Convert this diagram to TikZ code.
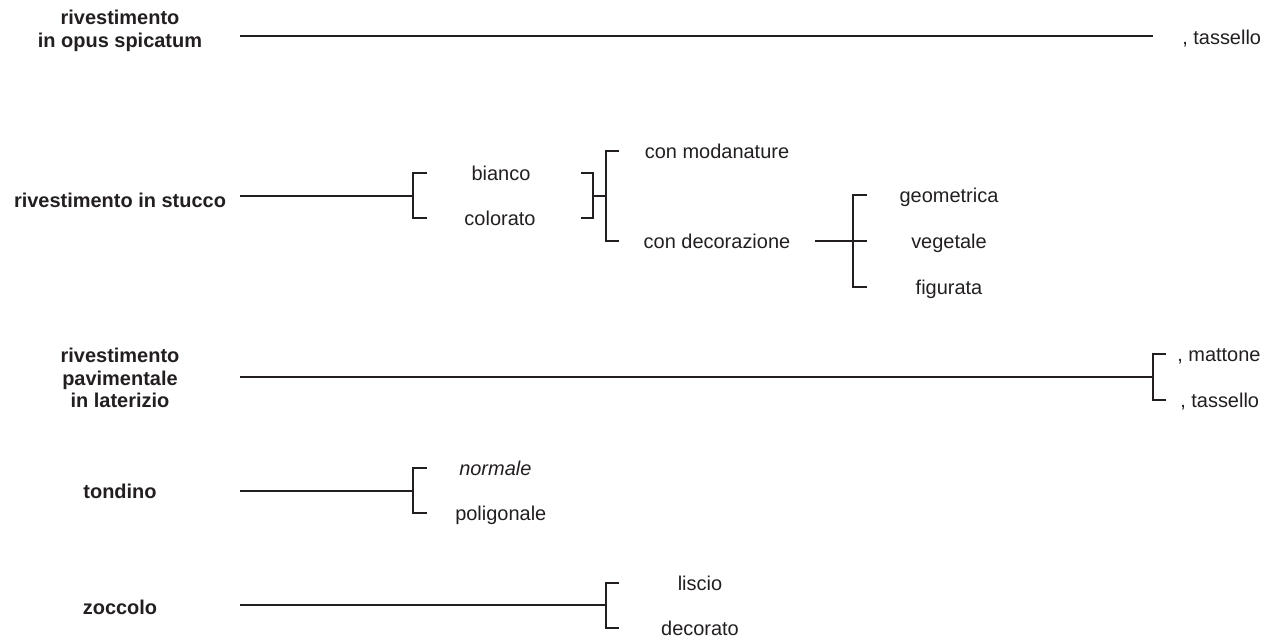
\documentclass[tikz,border=0pt]{standalone}
\usepackage{fontspec}
\setmainfont{Liberation Sans}
\usepackage{tikz}
\usetikzlibrary{positioning}
\definecolor{ink}{RGB}{35,31,32}

\begin{document}
\begin{tikzpicture}[x=0.025cm,y=-0.025cm,
  head/.style={font=\fontsize{14.2}{16}\selectfont\bfseries,align=center,
    inner sep=0pt,text=ink},
  term/.style={font=\fontsize{14.2}{16}\selectfont,inner sep=0pt,text=ink,
    text height=10pt,text depth=0pt},
  link/.style={line width=1.3pt,draw=ink}]
\useasboundingbox (0,0) rectangle (1272,642);
% rivestimento in opus spicatum
\node[head] (opus) at (120,31) {rivestimento\\in opus spicatum};
\coordinate (opusL) at (240,36);
\coordinate (opusR) at (1153,36);
\node[term,anchor=west] (opusT) at (1182,37) {, tassello};
\draw[link] (opusL) -- (opusR);
% rivestimento in stucco
\node[head] (stucco) at (120,200) {rivestimento in stucco};
\coordinate (stuccoL) at (240,196);
\coordinate (stuccoJ) at (413,196);
\node[term] (bianco) at (501,173) {bianco};
\node[term] (colorato) at (500,218) {colorato};
\coordinate (biancoL) at (427,173);
\coordinate (coloratoL) at (427,218);
\coordinate (biancoR) at (581,173);
\coordinate (coloratoR) at (581,218);
\coordinate (tintaJ) at (593,196);
\coordinate (finJ) at (606,196);
\node[term] (modan) at (717,151) {con modanature};
\node[term] (decor) at (717,241) {con decorazione};
\coordinate (modanL) at (619,151);
\coordinate (decorL) at (619,241);
\coordinate (decorR) at (815,241);
\coordinate (decorJ) at (853,241);
\node[term] (geom) at (949,195) {geometrica};
\node[term] (veget) at (949,241) {vegetale};
\node[term] (figur) at (949,287) {figurata};
\coordinate (geomL) at (867,195);
\coordinate (vegetL) at (867,241);
\coordinate (figurL) at (867,287);
\draw[link] (stuccoL) -- (stuccoJ);
\draw[link] (biancoL) -| (stuccoJ);
\draw[link] (coloratoL) -| (stuccoJ);
\draw[link] (biancoR) -| (tintaJ);
\draw[link] (coloratoR) -| (tintaJ);
\draw[link] (tintaJ) -- (finJ);
\draw[link] (modanL) -| (finJ);
\draw[link] (decorL) -| (finJ);
\draw[link] (decorR) -- (vegetL);
\draw[link] (geomL) -| (decorJ);
\draw[link] (figurL) -| (decorJ);
% rivestimento pavimentale in laterizio
\node[head] (pavim) at (120,378) {rivestimento\\pavimentale\\in laterizio};
\coordinate (pavimL) at (240,377);
\coordinate (pavimJ) at (1153,377);
\node[term,anchor=west] (matt) at (1177,354) {, mattone};
\node[term,anchor=west] (tass) at (1180,400) {, tassello};
\coordinate (mattL) at (1166,354);
\coordinate (tassL) at (1166,400);
\draw[link] (pavimL) -- (pavimJ);
\draw[link] (mattL) -| (pavimJ);
\draw[link] (tassL) -| (pavimJ);
% tondino
\node[head] (tond) at (120,491) {tondino};
\coordinate (tondL) at (240,491);
\coordinate (tondJ) at (413,491);
\node[term,anchor=west] (norm) at (459,468) {\itshape normale};
\node[term,anchor=west] (polig) at (455,513) {poligonale};
\coordinate (normL) at (427,468);
\coordinate (poligL) at (427,513);
\draw[link] (tondL) -- (tondJ);
\draw[link] (normL) -| (tondJ);
\draw[link] (poligL) -| (tondJ);
% zoccolo
\node[head] (zocc) at (120,607) {zoccolo};
\coordinate (zoccL) at (240,605);
\coordinate (zoccJ) at (606,605);
\node[term] (lisc) at (700,583) {liscio};
\node[term] (decorat) at (700,628) {decorato};
\coordinate (liscL) at (619,583);
\coordinate (decoratL) at (619,628);
\draw[link] (zoccL) -- (zoccJ);
\draw[link] (liscL) -| (zoccJ);
\draw[link] (decoratL) -| (zoccJ);
\end{tikzpicture}
\end{document}
